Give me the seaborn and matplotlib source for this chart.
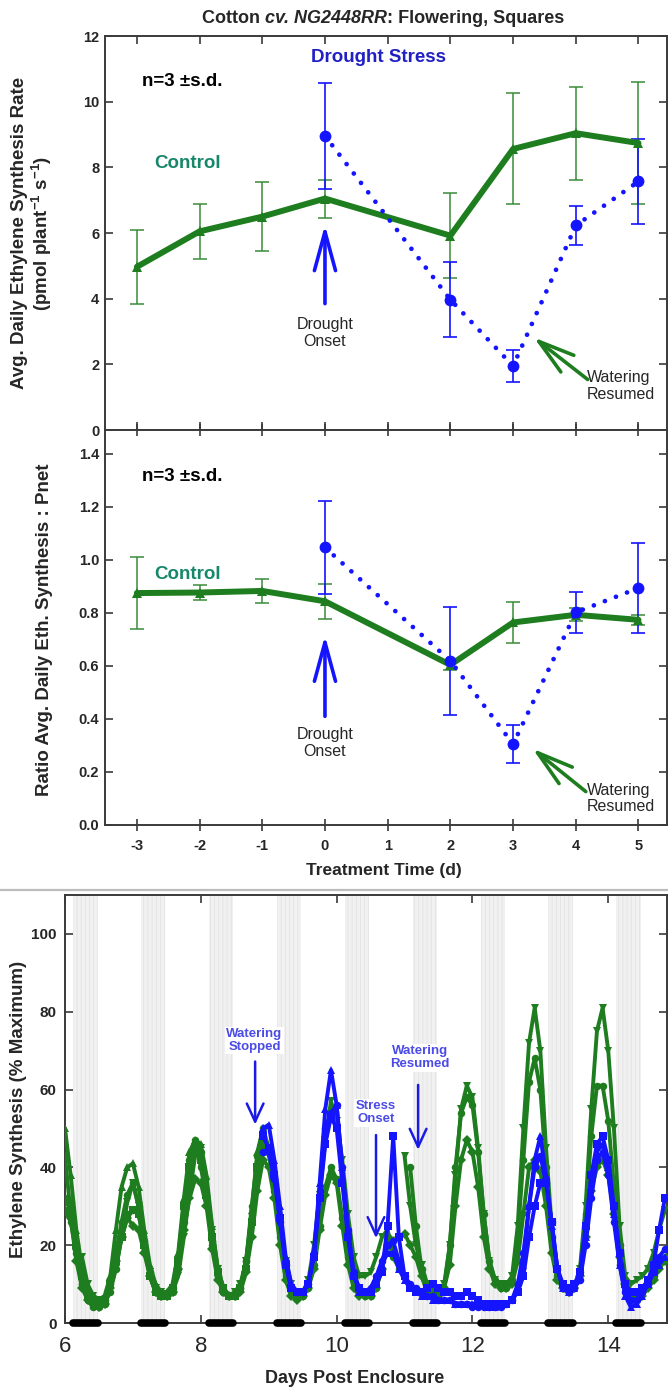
import numpy as np
import pandas as pd
import matplotlib
matplotlib.use("Agg")
import matplotlib.pyplot as plt
from matplotlib import font_manager as fm
from matplotlib.lines import Line2D
import seaborn as sns

nan = np.nan

# ---------------- daily averages vs. treatment time ----------------
days_ctrl = [-3, -2, -1, 0, 2, 3, 4, 5]
rate_ctrl = [4.97, 6.05, 6.50, 7.05, 5.92, 8.56, 9.04, 8.74]
rate_ctrl_sd = [1.13, 0.83, 1.05, 0.58, 1.30, 1.69, 1.41, 1.87]
ratio_ctrl = [0.875, 0.877, 0.883, 0.844, 0.604, 0.764, 0.793, 0.774]
ratio_ctrl_sd = [0.136, 0.030, 0.044, 0.067, 0.020, 0.078, 0.025, 0.020]

days_drought = [0, 2, 3, 4, 5]
rate_drought = [8.96, 3.97, 1.95, 6.23, 7.57]
rate_drought_sd = [1.62, 1.15, 0.50, 0.60, 1.28]
ratio_drought = [1.047, 0.619, 0.305, 0.802, 0.894]
ratio_drought_sd = [0.176, 0.203, 0.072, 0.076, 0.169]

treatment_ticks = [-3, -2, -1, 0, 1, 2, 3, 4, 5]

# ---------------- continuous record, % of maximum, 2-h samples from day 6 ----------------
sample_step_h = 2
# control plants (watered throughout)
ctrl_tri = [43, 28, 18, 17, 10, 7, 6, 6, 9, 14, 22, 31,
            36, 30, 20, 13, 9, 8, 7, 8, 12, 22, 33, 43,
            45, 36, 24, 14, 9, 7, 8, 10, 16, 26, 38, 46,
            43, 37, 26, 16, 10, 8, 8, 11, 20, 33, 47, 57,
            52, 42, 28, 17, 12, 12, 13, 17, 22, 24, 18, nan,
            43, 30, 20, 15, 10, 8, 8, 10, 20, 38, 55, 61,
            58, 45, 28, 16, 11, 10, 10, 12, 25, 50, 72, 81,
            70, 45, 25, 13, 9, 8, 9, 14, 30, 55, 75, 81,
            70, 50, 25, 12, 10, 11, 12, 14, 18, 24, 29]
ctrl_circ = [32, 31, 20, 10, 6, 4, 4, 5, 8, 14, 22, 28,
             29, 28, 21, 13, 8, 7, 7, 8, 14, 26, 38, 46,
             44, 33, 21, 12, 8, 7, 7, 9, 16, 30, 43, 50,
             45, 34, 22, 12, 8, 7, 7, 9, 15, 25, 35, 40,
             37, 27, 17, 11, 8, 7, 7, 9, 14, 22, 17, 14,
             nan, 40, 25, 14, 9, 7, 7, 9, 20, 40, 54, 58,
             56, 44, 28, 16, 11, 9, 9, 11, 22, 42, 62, 68,
             60, 40, 22, 12, 9, 8, 9, 13, 28, 48, 61, 61,
             52, 35, 20, 11, 8, 7, 8, 10, 12, 15, 17]
ctrl_diam = [29, 27, 16, 9, 6, 5, 4, 5, 9, 16, 22, 27,
             25, 24, 18, 12, 8, 7, 7, 8, 14, 24, 32, 37,
             36, 30, 19, 11, 8, 7, 7, 8, 13, 22, 34, 42,
             40, 32, 20, 11, 7, 6, 7, 9, 14, 24, 33, 38,
             36, 25, 15, 9, 7, 7, 7, 9, 14, 20, 21, 22,
             23, 20, 17, 12, 8, 7, 7, 9, 15, 30, 42, 47,
             44, 35, 22, 14, 10, 9, 9, 10, 16, 28, 40, 42,
             39, 30, 18, 11, 9, 8, 9, 12, 22, 34, 40, 42,
             38, 28, 17, 10, 7, 6, 7, 9, 11, 14, 16]
# drought plants (watering stopped near day 8.9)
dry_tri = [50, 38, 24, 14, 9, 7, 6, 7, 12, 24, 35, 40,
           41, 35, 24, 15, 10, 8, 8, 10, 18, 32, 44, 47,
           46, 38, 25, 14, 9, 7, 7, 9, 15, 29, 44, 50,
           51, 42, 30, 17, 10, 8, 8, 10, 18, 36, 55, 65,
           56, 40, 24, 13, 8, 8, 9, 11, 15, 18, 18, 14,
           11, 9, 8, 7, 7, 6, 6, 6, 6, 5, 5, 5,
           5, 5, 5, 4, 4, 5, 5, 6, 8, 15, 30, 42,
           48, 38, 25, 14, 9, 8, 9, 12, 22, 35, 44, 46,
           40, 28, 15, 7, 4, 5, 7, 10, 13, 15, 17]
dry_sq = [31, 30, 20, 12, 7, 6, 5, 6, 10, 16, 22, 27,
          29, 28, 20, 12, 8, 7, 7, 9, 16, 30, 40, 45,
          42, 33, 22, 13, 9, 7, 7, 9, 14, 26, 40, 48,
          45, 38, 27, 15, 9, 8, 8, 10, 17, 32, 46, 53,
          50, 36, 22, 12, 9, 8, 8, 10, 13, 25, 48, 22,
          12, 9, 8, 8, 9, 10, 9, 8, 8, 7, 7, 8,
          7, 6, 5, 5, 5, 5, 5, 6, 8, 12, 22, 30,
          36, 36, 26, 14, 10, 9, 10, 13, 25, 38, 46, 48,
          42, 30, 18, 10, 8, 8, 9, 11, 15, 24, 32]
dry_circ = [29, 26, 18, 10, 6, 5, 5, 6, 10, 18, 26, 33,
            36, 30, 20, 12, 8, 7, 7, 9, 17, 30, 42, 47,
            40, 32, 20, 12, 8, 7, 7, 9, 16, 28, 38, 44,
            44, 37, 26, 15, 9, 8, 8, 10, 18, 34, 50, 54,
            56, 40, 24, 13, 9, 8, 9, 12, 16, 20, 21, 16,
            12, 10, 9, 8, 7, 7, 6, 6, 6, 5, 5, 5,
            4, 4, 4, 4, 4, 4, 5, 6, 10, 18, 30, 40,
            43, 36, 26, 14, 9, 8, 9, 11, 20, 32, 42, 44,
            38, 26, 15, 8, 6, 6, 8, 10, 13, 17, 19]
watering_stop_day = 8.917

night_start = [6.12, 7.12, 8.12, 9.12, 10.12, 11.12, 12.12, 13.12, 14.12]
night_end = [6.48, 7.48, 8.48, 9.48, 10.48, 11.48, 12.48, 13.48, 14.48]
enclosure_ticks = [6, 8, 10, 12, 14]

# ---------------- style ----------------
GREEN = "#1e7d1e"
GREEN_ERR = "#3a8c3a"
TEAL = "#16876a"
BLUE = "#1414ff"
BLUE_TXT = "#2020c4"
BLUE_NOTE = "#4b4be6"
SPINE = "#3a3a3a"


def has_font(name):
    try:
        fm.findfont(fm.FontProperties(family=name), fallback_to_default=False)
        return True
    except Exception:
        return False


NARROW = "Liberation Sans Narrow" if has_font("Liberation Sans Narrow") else "Liberation Sans"
WIDE = "Liberation Sans"

sns.set_theme(style="ticks")
plt.rcParams["font.family"] = [NARROW, "DejaVu Sans"]
plt.rcParams["axes.unicode_minus"] = False
plt.rcParams["mathtext.fontset"] = "custom"
plt.rcParams["mathtext.rm"] = f"{WIDE}:bold"
plt.rcParams["mathtext.bf"] = f"{WIDE}:bold"
plt.rcParams["mathtext.it"] = f"{WIDE}:italic:bold"
plt.rcParams["hatch.linewidth"] = 0.5

fig = plt.figure(figsize=(6.68, 13.90), dpi=100)
ax1 = fig.add_axes([0.157, 0.6906, 0.842, 0.2835])
ax2 = fig.add_axes([0.157, 0.4065, 0.842, 0.2841])
ax3 = fig.add_axes([0.0973, 0.0482, 0.9017, 0.3079])

for ax in (ax1, ax2, ax3):
    for s in ax.spines.values():
        s.set_color(SPINE)
        s.set_linewidth(1.4)
        s.set_visible(True)


def daily_panel(ax, yc, sdc, yd, sdd):
    ax.errorbar(days_ctrl, yc, yerr=sdc, fmt="none", ecolor=GREEN_ERR,
                elinewidth=1.1, capsize=5, capthick=1.1, zorder=2)
    ax.errorbar(days_drought, yd, yerr=sdd, fmt="none", ecolor=BLUE,
                elinewidth=1.2, capsize=5, capthick=1.2, zorder=2)
    sns.lineplot(x=days_ctrl, y=yc, ax=ax, color=GREEN, lw=4.3, marker="^",
                 markersize=7, markeredgewidth=0, errorbar=None, zorder=3)
    sns.lineplot(x=days_drought, y=yd, ax=ax, color=BLUE, lw=3.4,
                 linestyle=(0, (0.01, 2.5)), dash_capstyle="round",
                 marker="o", markersize=8.5, markeredgewidth=0,
                 errorbar=None, zorder=4)
    ax.set_xlim(-3.51, 5.46)
    ax.set_xticks(treatment_ticks)
    ax.set_xlabel("")
    ax.set_ylabel("")
    ax.tick_params(axis="both", which="major", direction="in", length=6,
                   width=1.2, color=SPINE, top=True, right=True,
                   labelsize=10.5, pad=4)
    for lab in ax.get_xticklabels() + ax.get_yticklabels():
        lab.set_fontweight("bold")


def arrow(ax, tail, tip, color, lw, scale, hl, hw):
    ax.annotate("", xy=tip, xytext=tail,
                arrowprops=dict(arrowstyle=f"->,head_length={hl},head_width={hw}",
                                color=color, lw=lw, shrinkA=0, shrinkB=0,
                                mutation_scale=scale), zorder=5)


# --- panel 1: absolute rate ---
daily_panel(ax1, rate_ctrl, rate_ctrl_sd, rate_drought, rate_drought_sd)
ax1.set_ylim(0, 12)
ax1.set_yticks(range(0, 13, 2))
ax1.set_yticklabels([str(v) for v in range(0, 13, 2)])
ax1.tick_params(axis="x", labelbottom=False)
for lab in ax1.get_yticklabels():
    lab.set_fontweight("bold")
ax1.text(0.85, 11.36, "Drought Stress", color=BLUE_TXT, fontsize=13.5,
         fontweight="bold", ha="center", va="center")
ax1.text(-2.92, 10.6, "n=3 \u00b1s.d.", color="black", fontsize=13.5,
         fontweight="bold", ha="left", va="center")
ax1.text(-2.72, 8.13, "Control", color=TEAL, fontsize=13.5,
         fontweight="bold", ha="left", va="center")
arrow(ax1, (0, 3.85), (0, 6.25), BLUE, 2.6, 20, 1.4, 0.38)
ax1.text(0, 2.95, "Drought\nOnset", fontsize=11.5, ha="center", va="center",
         linespacing=1.15)
arrow(ax1, (4.19, 1.54), (3.33, 2.82), GREEN, 2.6, 20, 1.3, 0.38)
ax1.text(4.18, 1.33, "Watering\nResumed", fontsize=11.5, ha="left",
         va="center", linespacing=1.15)

# --- panel 2: ratio to net photosynthesis ---
daily_panel(ax2, ratio_ctrl, ratio_ctrl_sd, ratio_drought, ratio_drought_sd)
ax2.set_ylim(0, 1.49)
ax2.set_yticks(np.arange(0, 1.41, 0.2))
ax2.set_yticklabels([f"{v:.1f}" for v in np.arange(0, 1.41, 0.2)])
ax2.set_xticklabels([str(v) for v in treatment_ticks])
ax2.tick_params(axis="x", direction="inout", length=8, pad=6)
for lab in ax2.get_xticklabels() + ax2.get_yticklabels():
    lab.set_fontweight("bold")
ax2.text(-2.92, 1.316, "n=3 \u00b1s.d.", color="black", fontsize=13.5,
         fontweight="bold", ha="left", va="center")
ax2.text(-2.72, 0.944, "Control", color=TEAL, fontsize=13.5,
         fontweight="bold", ha="left", va="center")
arrow(ax2, (0, 0.41), (0, 0.715), BLUE, 2.6, 20, 1.4, 0.38)
ax2.text(0, 0.31, "Drought\nOnset", fontsize=11.5, ha="center", va="center",
         linespacing=1.15)
arrow(ax2, (4.16, 0.126), (3.31, 0.288), GREEN, 2.6, 20, 1.3, 0.38)
ax2.text(4.18, 0.10, "Watering\nResumed", fontsize=11.5, ha="left",
         va="center", linespacing=1.15)


def title_pieces(x_center, y, pieces, **kw):
    """Lay out differently styled pieces of one line, centred at x_center."""
    renderer = fig.canvas.get_renderer()
    texts = [fig.text(0, y, s, fontstyle=st, ha="left", va="center", **kw)
             for s, st in pieces]
    widths = [t.get_window_extent(renderer).width for t in texts]
    x0 = x_center * fig.bbox.width - sum(widths) / 2
    for t, w in zip(texts, widths):
        t.set_x(x0 / fig.bbox.width)
        x0 += w


title_pieces(0.573, 0.987,
             [("Cotton\u00a0", "normal"), ("cv. NG2448RR", "italic"),
              (": Flowering, Squares", "normal")],
             fontsize=13, fontweight="bold")

fig.text(0.049, 0.8324,
         "Avg. Daily Ethylene Synthesis Rate\n(pmol plant$^{-1}$ s$^{-1}$)",
         family=[WIDE, "DejaVu Sans"], fontsize=13.5, fontweight="bold",
         rotation=90, ha="center", va="center", multialignment="center",
         linespacing=1.1)
fig.text(0.067, 0.5468, "Ratio Avg. Daily Eth. Synthesis : Pnet",
         family=[WIDE, "DejaVu Sans"], fontsize=13.5, fontweight="bold",
         rotation=90, ha="center", va="center")
fig.text(0.574, 0.3736, "Treatment Time (d)", fontsize=12.5,
         fontweight="bold", ha="center", va="center")

# separator between the two figure parts
fig.add_artist(Line2D([0, 1], [0.3598, 0.3598], color="#bdbdbd", lw=1.6,
                      transform=fig.transFigure))

# --- panel 3: continuous record ---
for s, e in zip(night_start, night_end):
    ax3.axvspan(s, e, facecolor="#f1f1f1", edgecolor="#e0e0e0",
                hatch="||||", lw=0, zorder=0)
    ax3.plot([s, e], [0, 0], color="black", lw=5.5, solid_capstyle="round",
             clip_on=False, zorder=6)

n_samples = len(ctrl_tri)
t_days = 6 + np.arange(n_samples) * sample_step_h / 24.0


def trace(ax, t, v, color, marker, z, ms=5.4):
    v = np.asarray(v, dtype=float)
    idx = np.flatnonzero(~np.isnan(v))
    runs = np.split(idx, np.where(np.diff(idx) > 1)[0] + 1)
    for r in runs:
        if len(r) == 0:
            continue
        df = pd.DataFrame({"day": t[r], "pct": v[r]})
        sns.lineplot(data=df, x="day", y="pct", ax=ax, color=color, lw=2.8,
                     marker=marker, markersize=ms, markeredgewidth=0,
                     errorbar=None, legend=False, zorder=z)


split = int(round((watering_stop_day - 6) * 24 / sample_step_h))
for vals, mk in [(dry_tri, "^"), (dry_sq, "s"), (dry_circ, "o")]:
    trace(ax3, t_days[:split + 1], vals[:split + 1], GREEN, mk, 3)
for vals, mk in [(ctrl_tri, "v"), (ctrl_circ, "o"), (ctrl_diam, "D")]:
    trace(ax3, t_days, vals, GREEN, mk, 3, ms=5.4 if mk != "D" else 4.6)
for vals, mk in [(dry_tri, "^"), (dry_sq, "s"), (dry_circ, "o")]:
    trace(ax3, t_days[split:], vals[split:], BLUE, mk, 4)

ax3.set_xlim(6, 14.87)
ax3.set_ylim(0, 110)
ax3.set_xticks(enclosure_ticks)
ax3.set_xticklabels([str(v) for v in enclosure_ticks])
ax3.set_yticks(range(0, 101, 20))
ax3.set_yticklabels([str(v) for v in range(0, 101, 20)])
ax3.set_xlabel("")
ax3.set_ylabel("")
ax3.tick_params(axis="both", direction="in", length=6, width=1.2,
                color=SPINE, top=True, right=True)
ax3.tick_params(axis="x", labelsize=16, pad=9)
ax3.tick_params(axis="y", labelsize=11, pad=6)
for lab in ax3.get_xticklabels():
    lab.set_family([WIDE, "DejaVu Sans"])
for lab in ax3.get_yticklabels():
    lab.set_fontweight("bold")

notes = [("Watering\nStopped", 8.79, 72.6, (8.80, 67.2), (8.80, 51.0)),
         ("Stress\nOnset", 10.58, 54.0, (10.58, 48.3), (10.58, 21.8)),
         ("Watering\nResumed", 11.23, 68.2, (11.20, 61.2), (11.20, 44.5))]
for label, tx, ty, tail, tip in notes:
    ax3.text(tx, ty, label, color=BLUE_NOTE, fontsize=9.5, fontweight="bold",
             ha="center", va="center", linespacing=1.1, zorder=7,
             bbox=dict(facecolor="white", edgecolor="none", pad=1.0))
    arrow(ax3, tail, tip, "#1a1ae6", 1.8, 10, 1.3, 0.6)

fig.text(0.0284, 0.2022, "Ethylene Synthesis (% Maximum)",
         family=[WIDE, "DejaVu Sans"], fontsize=13.5, fontweight="bold",
         rotation=90, ha="center", va="center")
fig.text(0.531, 0.0086, "Days Post Enclosure", family=[WIDE, "DejaVu Sans"],
         fontsize=13, fontweight="bold", ha="center", va="center")

fig.savefig("out.png", dpi=100, facecolor="white")
